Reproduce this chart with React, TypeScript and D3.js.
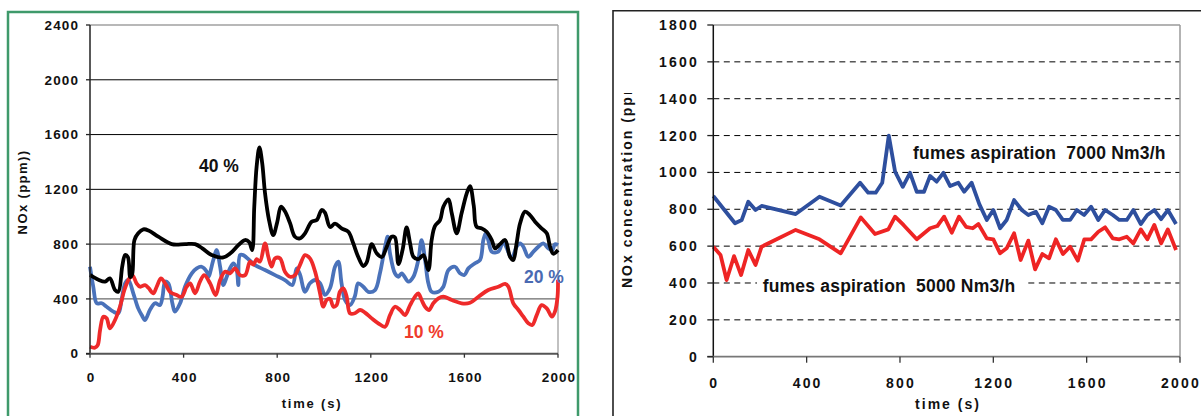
import React from "react";
import * as d3 from "d3";

// ---- Left panel: NOx vs time at three oxygen levels (smoothed traces) ----
const leftYTicks = [0, 400, 800, 1200, 1600, 2000, 2400];
const leftXTicks = [0, 400, 800, 1200, 1600, 2000];

const series40: [number, number][] = [
  [0, 575], [36, 540], [64, 526], [85, 550], [107, 465], [121, 452], [138, 640], [150, 720],
  [162, 705], [172, 560], [180, 580], [190, 830], [206, 879], [228, 908], [250, 900], [292, 854],
  [349, 800], [406, 800], [449, 800], [480, 769], [520, 720], [570, 703], [600, 733], [634, 793],
  [663, 830], [680, 815], [693, 757], [702, 1073], [712, 1365], [724, 1506], [736, 1390],
  [748, 1171], [765, 976], [783, 866], [800, 960], [816, 1073], [833, 1040], [855, 952],
  [876, 854], [897, 842], [919, 879], [947, 964], [969, 976], [990, 1049], [1004, 1030],
  [1026, 925], [1047, 950], [1075, 915], [1104, 890], [1125, 806], [1146, 708], [1168, 640],
  [1182, 665], [1204, 800], [1225, 733], [1247, 706], [1268, 780], [1289, 854], [1303, 850],
  [1318, 655], [1336, 760], [1353, 922], [1368, 806], [1382, 708], [1403, 690], [1425, 720],
  [1446, 611], [1460, 830], [1474, 932], [1496, 976], [1510, 1073], [1532, 1127], [1546, 1025],
  [1567, 879], [1588, 1025], [1610, 1171], [1624, 1224], [1640, 1080], [1652, 927], [1674, 915],
  [1695, 890], [1717, 830], [1731, 769], [1752, 800], [1774, 830], [1795, 708], [1809, 684],
  [1823, 806], [1838, 952], [1859, 1037], [1880, 1012], [1902, 964], [1930, 915], [1952, 879],
  [1966, 781], [1980, 730], [2000, 757],
];

const series20: [number, number][] = [
  [0, 635], [14, 489], [29, 368], [50, 368], [71, 343], [100, 307], [121, 295], [135, 392],
  [150, 514], [164, 538], [185, 441], [206, 331], [221, 282], [235, 246], [256, 319], [278, 368],
  [299, 355], [310, 416], [321, 526], [335, 514], [352, 368], [363, 307], [385, 368], [406, 489],
  [435, 587], [456, 623], [477, 635], [499, 599], [506, 562], [527, 684], [541, 757], [556, 635],
  [570, 501], [584, 560], [598, 623], [613, 660], [627, 611], [634, 501], [641, 720], [655, 720],
  [677, 690], [705, 647], [748, 611], [791, 574], [833, 538], [865, 501], [883, 623], [897, 580],
  [919, 452], [940, 514], [962, 538], [983, 514], [1004, 430], [1026, 480], [1047, 635],
  [1061, 672], [1075, 514], [1090, 392], [1111, 355], [1132, 420], [1146, 514], [1168, 489],
  [1189, 452], [1218, 465], [1239, 587], [1261, 781], [1272, 854], [1282, 733], [1303, 587],
  [1318, 562], [1332, 587], [1361, 526], [1382, 562], [1403, 684], [1417, 830], [1432, 684],
  [1446, 514], [1460, 452], [1489, 452], [1510, 489], [1532, 611], [1560, 635], [1581, 587],
  [1600, 575], [1617, 623], [1645, 660], [1667, 684], [1681, 830], [1691, 879], [1702, 830],
  [1717, 745], [1745, 745], [1766, 818], [1781, 770], [1802, 696], [1823, 781], [1838, 806],
  [1852, 781], [1873, 708], [1895, 745], [1916, 781], [1937, 806], [1959, 769], [1976, 757],
  [1987, 800], [2000, 793],
];

const series10: [number, number][] = [
  [0, 51], [21, 44], [33, 63], [43, 173], [57, 270], [71, 258], [85, 185], [107, 246], [128, 343],
  [147, 465], [164, 538], [181, 574], [199, 514], [214, 489], [235, 501], [250, 480], [271, 441],
  [285, 489], [303, 550], [321, 514], [342, 452], [370, 428], [392, 416], [413, 489], [428, 514],
  [449, 441], [470, 526], [488, 574], [513, 514], [537, 428], [556, 538], [577, 599], [598, 587],
  [620, 623], [641, 574], [663, 574], [684, 672], [698, 650], [712, 690], [726, 672], [748, 806],
  [762, 708], [776, 636], [791, 696], [812, 696], [833, 599], [855, 562], [876, 574], [897, 647],
  [919, 720], [940, 696], [962, 599], [983, 441], [997, 343], [1011, 392], [1026, 400],
  [1040, 343], [1054, 355], [1068, 452], [1083, 477], [1097, 416], [1111, 295], [1132, 295],
  [1154, 319], [1175, 300], [1204, 258], [1232, 222], [1261, 197], [1282, 282], [1303, 343],
  [1325, 319], [1346, 282], [1368, 355], [1389, 416], [1403, 441], [1417, 392], [1432, 343],
  [1449, 319], [1467, 368], [1489, 404], [1510, 416], [1546, 392], [1588, 368], [1624, 372],
  [1660, 416], [1702, 465], [1745, 489], [1774, 509], [1788, 489], [1809, 368], [1831, 319],
  [1852, 270], [1873, 222], [1890, 210], [1909, 282], [1930, 355], [1952, 331], [1974, 270],
  [1987, 307], [1998, 416], [2000, 540],
];

// ---- Right panel: NOx concentration at two fume aspiration rates ----
const rightYTicks = [0, 200, 400, 600, 800, 1000, 1200, 1400, 1600, 1800];
const rightXTicks = [0, 400, 800, 1200, 1600, 2000];

const aspiration7000: [number, number][] = [
  [0, 872], [93, 724], [122, 742], [150, 841], [181, 796], [207, 818], [353, 774], [455, 868],
  [546, 820], [629, 944], [664, 890], [696, 890], [724, 944], [752, 1200], [779, 1004],
  [812, 922], [843, 998], [872, 895], [903, 895], [929, 981], [957, 950], [986, 998],
  [1015, 926], [1050, 944], [1075, 895], [1107, 944], [1140, 828], [1172, 742], [1200, 796],
  [1229, 697], [1257, 742], [1289, 850], [1322, 796], [1350, 769], [1382, 787], [1410, 724],
  [1439, 814], [1468, 796], [1498, 742], [1529, 742], [1558, 796], [1589, 769], [1619, 814],
  [1650, 742], [1679, 796], [1712, 769], [1740, 742], [1772, 742], [1800, 796], [1832, 720],
  [1860, 769], [1890, 796], [1919, 746], [1948, 796], [1983, 720],
];

const aspiration5000: [number, number][] = [
  [0, 597], [31, 552], [57, 416], [89, 546], [119, 443], [150, 579], [181, 498], [207, 597],
  [353, 688], [455, 637], [546, 561], [632, 756], [693, 666], [750, 691], [779, 760], [815, 715],
  [872, 637], [929, 697], [960, 709], [989, 760], [1022, 673], [1053, 760], [1083, 705],
  [1112, 697], [1136, 720], [1172, 642], [1200, 637], [1229, 561], [1257, 588], [1289, 670],
  [1317, 525], [1350, 630], [1379, 474], [1410, 557], [1439, 534], [1468, 637], [1498, 557],
  [1529, 597], [1562, 521], [1590, 637], [1619, 637], [1650, 678], [1679, 702], [1712, 642],
  [1740, 637], [1772, 651], [1800, 615], [1832, 691], [1860, 637], [1890, 715], [1919, 615],
  [1948, 691], [1983, 579],
];

const FONT = "'Liberation Sans', Arial, Helvetica, sans-serif";

export default function App() {
  // left panel scales
  const lx = d3.scaleLinear().domain([0, 2000]).range([90, 558]);
  const ly = d3.scaleLinear().domain([0, 2400]).range([353.7, 25]);
  const smooth = d3
    .line<[number, number]>()
    .x((d) => lx(d[0]))
    .y((d) => ly(d[1]))
    .curve(d3.curveCatmullRom.alpha(0.5));

  // right panel scales
  const rx = d3.scaleLinear().domain([0, 2000]).range([713.3, 1180]);
  const ry = d3.scaleLinear().domain([0, 1800]).range([356.7, 25]);
  const straight = d3
    .line<[number, number]>()
    .x((d) => rx(d[0]))
    .y((d) => ry(d[1]));

  return (
    <svg
      width={1201}
      height={416}
      style={{ position: "absolute", left: 0, top: 0, background: "#fff" }}
      fontFamily={FONT}
      fontWeight="bold"
    >
      <defs>
        <clipPath id="ytitle-clip">
          <rect x={600} y={93} width={60} height={300} />
        </clipPath>
      </defs>
      <rect x={0} y={0} width={1201} height={416} fill="#fff" />

      {/* ===== Left panel ===== */}
      <path d="M8,420 L8,12 L578,12 L578,420" fill="none" stroke="#3f9a6b" strokeWidth={2.5} />

      {leftYTicks.slice(1, -1).map((t) => (
        <line
          key={"lg" + t}
          x1={lx(0)}
          x2={lx(2000)}
          y1={ly(t)}
          y2={ly(t)}
          stroke={t >= 1200 ? "#000" : "#6a6a6a"}
          strokeWidth={t >= 1200 ? 1 : 1.4}
        />
      ))}
      <line x1={lx(0)} x2={lx(2000)} y1={ly(2400)} y2={ly(2400)} stroke="#a0a0a0" strokeWidth={1.3} />
      <line x1={lx(2000)} x2={lx(2000)} y1={ly(2400)} y2={ly(0)} stroke="#a0a0a0" strokeWidth={1.3} />

      <path d={smooth(series20) ?? ""} fill="none" stroke="#4a72ba" strokeWidth={3.8} strokeLinejoin="round" />
      <path d={smooth(series10) ?? ""} fill="none" stroke="#ee2a2a" strokeWidth={3.8} strokeLinejoin="round" />
      <path d={smooth(series40) ?? ""} fill="none" stroke="#000" strokeWidth={3.8} strokeLinejoin="round" />

      <line x1={lx(0)} x2={lx(0)} y1={ly(2400)} y2={ly(0)} stroke="#222" strokeWidth={1.5} />
      <line x1={lx(0) - 4} x2={lx(2000)} y1={ly(0)} y2={ly(0)} stroke="#555" strokeWidth={2} />
      {leftYTicks.map((t) => (
        <g key={"ly" + t}>
          <line x1={lx(0) - 4} x2={lx(0)} y1={ly(t)} y2={ly(t)} stroke="#222" strokeWidth={1.3} />
          <text x={79} y={ly(t)} dy="0.35em" textAnchor="end" fontSize={13.5} letterSpacing={1.1} fill="#111">
            {t}
          </text>
        </g>
      ))}
      {leftXTicks.map((t) => (
        <g key={"lx" + t}>
          <line x1={lx(t)} x2={lx(t)} y1={ly(0)} y2={ly(0) + 4} stroke="#333" strokeWidth={1.3} />
          <text x={lx(t) + 1} y={382} textAnchor="middle" fontSize={13.5} letterSpacing={1.1} fill="#111">
            {t}
          </text>
        </g>
      ))}
      <text x={312} y={408} textAnchor="middle" fontSize={13} letterSpacing={1.8} fill="#111">
        time (s)
      </text>
      <text
        transform={`translate(27, ${192}) rotate(-90)`}
        textAnchor="middle"
        fontSize={13}
        letterSpacing={1.4}
        fill="#111"
      >
        NOx (ppm))
      </text>

      <text x={199} y={172} fontSize={17.5} fill="#111">40 %</text>
      <text x={524} y={283} fontSize={17.5} fill="#4a6ab2">20 %</text>
      <text x={404} y={338} fontSize={17.5} fill="#ef3b2c">10 %</text>

      {/* ===== Right panel ===== */}
      <path d="M613,420 L613,10.7 L1205,10.7" fill="none" stroke="#222" strokeWidth={1.6} />

      {rightYTicks.slice(1, -1).map((t) => (
        <line
          key={"rg" + t}
          x1={rx(0)}
          x2={rx(2000)}
          y1={ry(t)}
          y2={ry(t)}
          stroke="#000"
          strokeWidth={1}
          strokeDasharray="6,4.5"
        />
      ))}
      <line x1={rx(0)} x2={rx(2000)} y1={ry(1800)} y2={ry(1800)} stroke="#9a9a9a" strokeWidth={1.5} />
      <line x1={rx(2000)} x2={rx(2000)} y1={ry(1800)} y2={ry(0)} stroke="#9a9a9a" strokeWidth={1.5} />

      <rect x={757} y={276} width={268} height={21} fill="#fff" />
      <text x={762.7} y={292} fontSize={17.5} letterSpacing={0.2} fill="#111" style={{ whiteSpace: "pre" }}>
        {"fumes aspiration  5000 Nm3/h"}
      </text>
      <text x={913} y={159} fontSize={17.5} letterSpacing={0.2} fill="#111" style={{ whiteSpace: "pre" }}>
        {"fumes aspiration  7000 Nm3/h"}
      </text>

      <path d={straight(aspiration5000) ?? ""} fill="none" stroke="#ee2424" strokeWidth={3.8} strokeLinejoin="round" />
      <path d={straight(aspiration7000) ?? ""} fill="none" stroke="#2e4f9e" strokeWidth={3.8} strokeLinejoin="round" />

      <line x1={rx(0)} x2={rx(0)} y1={ry(1800)} y2={ry(0)} stroke="#111" strokeWidth={1.5} />
      <line x1={rx(0) - 6} x2={rx(2000)} y1={ry(0)} y2={ry(0)} stroke="#777" strokeWidth={1.8} />
      {rightYTicks.map((t) => (
        <g key={"ry" + t}>
          <line x1={rx(0) - 6} x2={rx(0)} y1={ry(t)} y2={ry(t)} stroke="#222" strokeWidth={1.3} />
          <text x={699} y={ry(t)} dy="0.36em" textAnchor="end" fontSize={14} letterSpacing={2.2} fill="#111">
            {t}
          </text>
        </g>
      ))}
      {rightXTicks.map((t) => (
        <g key={"rx" + t}>
          <line x1={rx(t)} x2={rx(t)} y1={ry(0)} y2={ry(0) + 6} stroke="#333" strokeWidth={1.3} />
          <text x={rx(t) + 1} y={388} textAnchor="middle" fontSize={14} letterSpacing={2.2} fill="#111">
            {t}
          </text>
        </g>
      ))}
      <text x={948} y={409} textAnchor="middle" fontSize={14} letterSpacing={2} fill="#111">
        time (s)
      </text>
      <g clipPath="url(#ytitle-clip)">
        <text
          transform="translate(632, 288) rotate(-90)"
          textAnchor="start"
          fontSize={14}
          letterSpacing={2}
          fill="#111"
        >
          NOx concentration (ppm)
        </text>
      </g>
    </svg>
  );
}
